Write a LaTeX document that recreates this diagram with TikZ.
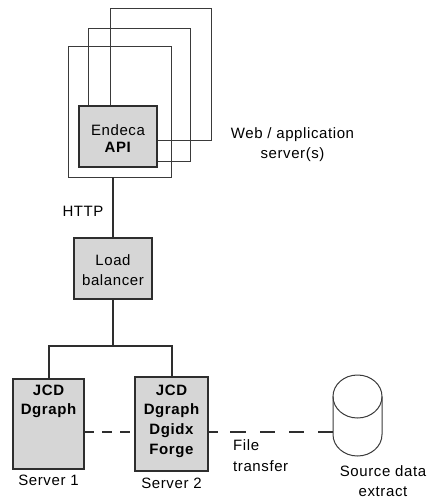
\documentclass[tikz,border=0pt]{standalone}
\usepackage{fontspec}
\setmainfont[LetterSpace=4]{Liberation Sans}
\definecolor{linec}{HTML}{2E2E2E}
\definecolor{framec}{HTML}{3A3A3A}
\definecolor{boxfill}{HTML}{D6D6D6}
\begin{document}
\begin{tikzpicture}[x=1pt,y=-1pt,
  frame/.style={draw=framec, line width=0.9pt, inner sep=0, outer sep=0},
  box/.style={draw=linec, fill=boxfill, line width=1.3pt, inner sep=0, outer sep=0},
  conn/.style={draw=linec, line width=2pt},
  dashshort/.style={conn, dash pattern=on 10pt off 8pt},
  dashlong/.style={conn, dash pattern=on 10pt off 12pt on 16pt off 14pt on 15pt off 14pt on 15pt off 14pt on 15pt off 11pt},
  txt/.style={font=\fontsize{15}{20}\selectfont, inner sep=0, align=center},
  btxt/.style={font=\fontsize{15}{19.7}\selectfont\bfseries, inner sep=0, align=center}]
\useasboundingbox (0,0) rectangle (433,499);
% web/application server frames
\node[frame, minimum width=101pt, minimum height=132pt] (back) at (160.5,74) {};
\node[frame, minimum width=102pt, minimum height=133pt] (middle) at (139,94.5) {};
\node[frame, minimum width=103pt, minimum height=131pt] (front) at (119.5,111.5) {};
\node[box, minimum width=78pt, minimum height=61pt] (api) at (118,136.5) {};
\node[txt, font=\fontsize{15}{17.5}\selectfont] (apit) at (118,138.5) {Endeca\\\textbf{API}};
\node[txt] (web) at (292.5,144.5) {Web / application\\server(s)};
% load balancer
\node[box, minimum width=78pt, minimum height=61pt] (lb) at (113,268.5) {};
\node[txt] (lbt) at (113,270) {Load\\balancer};
\draw[conn] (front.south -| lb.north) -- (lb.north);
\node[txt] (http) at (83,211) {HTTP};
% servers
\node[box, minimum width=71pt, minimum height=90pt] (s1) at (48.5,424) {};
\node[box, minimum width=73pt, minimum height=94pt] (s2) at (171.5,424) {};
\node[btxt, anchor=north] (s1t) at (48.5,384.5) {JCD\\Dgraph};
\node[btxt, anchor=north] (s2t) at (171.5,384.5) {JCD\\Dgraph\\Dgidx\\Forge};
\node[txt] (s1l) at (48.5,480) {Server 1};
\node[txt] (s2l) at (171.5,483) {Server 2};
\coordinate (bus) at (113,346);
\draw[conn] (lb.south) -- (bus);
\draw[conn] (s1.north) |- (bus) -| (s2.north);
% source data cylinder
\draw[draw=framec, line width=1pt] (357.5,396.5) ellipse [x radius=24.5, y radius=21.5];
\draw[draw=framec, line width=1pt] (333,396.5) -- (333,434.5)
  arc[start angle=180, end angle=0, x radius=24.5, y radius=21.5] -- (382,396.5);
\coordinate (cylw) at (333,432);
\coordinate (dl) at (0,432);
\draw[dashshort] (s1.east |- dl) -- (s2.west |- dl);
\draw[dashlong] (s2.east |- dl) -- (cylw);
\node[txt, align=left, anchor=west, font=\fontsize{15}{21}\selectfont] (ft) at (233,456) {File\\transfer};
\node[txt] (src) at (383,481) {Source data\\extract};
\end{tikzpicture}
\end{document}
